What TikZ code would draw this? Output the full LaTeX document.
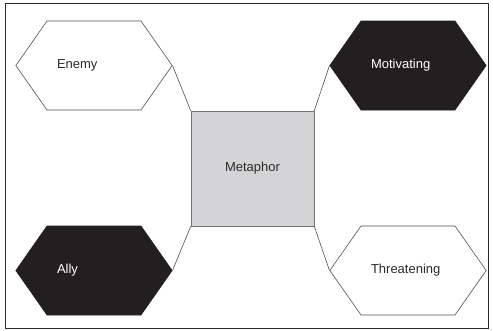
\documentclass[tikz,border=0pt]{standalone}
\usepackage{fontspec}
\setmainfont{Liberation Sans}
\usetikzlibrary{shapes.symbols}
\definecolor{hexblack}{HTML}{231F20}
\definecolor{linegray}{HTML}{505050}
\definecolor{boxgray}{HTML}{D4D4D6}
\definecolor{textgray}{HTML}{2B2B2B}

\begin{document}
\begin{tikzpicture}[x=1pt, y=-1pt,
    font=\fontsize{13}{15}\selectfont,
    hexa/.style={shape=signal, signal to=east and west, signal pointer angle=110,
                 draw=linegray, line width=0.6pt, fill=white, text=textgray,
                 minimum width=156pt, minimum height=89pt,
                 text width=74pt, inner xsep=10pt, align=left},
    darkhexa/.style={hexa, fill=hexblack, draw=hexblack, text=white},
    metabox/.style={rectangle, draw=linegray!80, fill=boxgray, line width=0.6pt,
                    minimum width=123pt, minimum height=115pt, text=textgray},
    link/.style={draw=linegray, line width=0.6pt}
  ]
    \useasboundingbox (0,0) rectangle (493,330);
    \draw[line width=0.9pt, draw=textgray] (5,3) rectangle (488,328);

    \node[metabox]  (meta)   at (252.5,168.5) {Metaphor};
    \node[hexa]     (enemy)  at (94,65.5)     {Enemy};
    \node[darkhexa] (motiv)  at (408,65.5)    {Motivating};
    \node[darkhexa] (ally)   at (94,270.5)    {Ally};
    \node[hexa]     (threat) at (408,270.5)   {Threatening};

    \draw[link] (enemy.east)  -- (meta.north west);
    \draw[link] (motiv.west)  -- (meta.north east);
    \draw[link] (ally.east)   -- (meta.south west);
    \draw[link] (threat.west) -- (meta.south east);
\end{tikzpicture}
\end{document}
